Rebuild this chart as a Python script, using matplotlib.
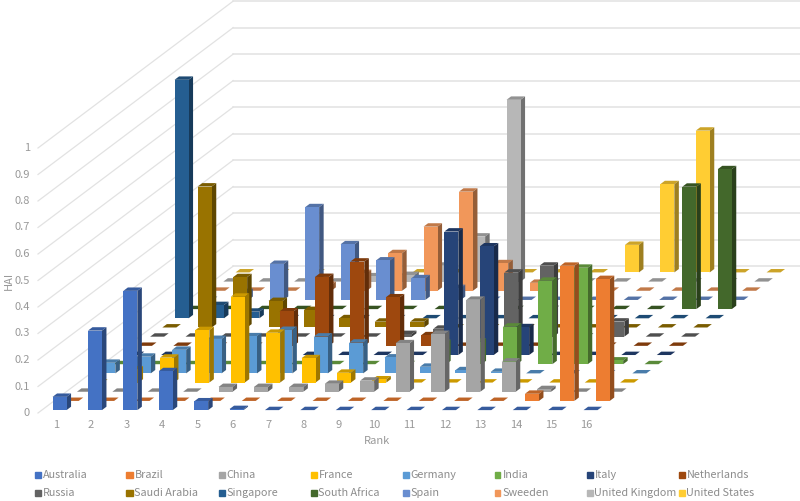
import numpy as np
import matplotlib
matplotlib.use("Agg")
import matplotlib.pyplot as plt
from matplotlib.colors import to_rgb
from matplotlib.patches import Rectangle

plt.rcParams['font.family'] = ['Noto Sans CJK SC', 'DejaVu Sans']

ranks = list(range(1, 17))
z_ticks = [0, 0.1, 0.2, 0.3, 0.4, 0.5, 0.6, 0.7, 0.8, 0.9, 1]
z_labels = ['0', '0.1', '0.2', '0.3', '0.4', '0.5', '0.6', '0.7', '0.8', '0.9', '1']

australia = [.05, .30, .45, .147, .033, .004, 0, 0, 0, 0, 0, 0, 0, 0, 0, 0]
brazil = [0, 0, 0, 0, 0, 0, 0, 0, 0, 0, 0, 0, 0, .027, .51, .46]
china = [0, 0, 0, 0, .018, .018, .018, .03, .042, .183, .218, .347, .114, .01, 0, 0]
france = [0, .05, .094, .198, .324, .188, .092, .037, .012, 0, 0, 0, 0, 0, 0, 0]
germany = [.04, .063, .089, .13, .14, .164, .139, .116, .06, .025, .012, .006, 0, 0, 0, 0]
india = [0, 0, 0, 0, 0, 0, 0, 0, 0, .08, .085, .142, .315, .364, .014, 0]
italy = [0, 0, 0, 0, 0, 0, 0, 0, 0, .466, .41, .105, 0, 0, 0, 0]
netherlands = [0, 0, 0, 0, .13, .26, .318, .183, .04, 0, 0, 0, 0, 0, 0, 0]
russia = [0, 0, 0, 0, 0, 0, 0, .01, .03, 0, .242, .268, 0, .057, 0, 0]
saudi_arabia = [0, .532, .19, .10, .066, .035, .022, .022, 0, 0, 0, 0, 0, 0, 0, 0]
singapore = [.90, .05, .025, 0, 0, 0, 0, 0, 0, 0, 0, 0, 0, 0, 0, 0]
south_africa = [0, 0, 0, 0, 0, 0, 0, 0, 0, 0, 0, 0, 0, 0, .462, .528]
spain = [0, .03, .136, .35, .21, .149, .082, .045, 0, 0, 0, 0, 0, 0, 0, 0]
sweeden = [0, 0, 0, .022, .067, .142, .242, .374, .104, .03, 0, 0, 0, 0, 0, 0]
united_kingdom = [0, 0, 0, 0, .02, .025, .06, .17, .686, 0, 0, 0, 0, 0, 0, 0]
united_states = [0, 0, 0, 0, 0, 0, 0, 0, 0, 0, 0, .104, .333, .535, 0, 0]

names = ['Australia', 'Brazil', 'China', 'France', 'Germany', 'India', 'Italy',
         'Netherlands', 'Russia', 'Saudi Arabia', 'Singapore', 'South Africa',
         'Spain', 'Sweeden', 'United Kingdom', 'United States']
series = [australia, brazil, china, france, germany, india, italy, netherlands,
          russia, saudi_arabia, singapore, south_africa, spain, sweeden,
          united_kingdom, united_states]
colors = ['#4472C4', '#ED7D31', '#A5A5A5', '#FFC000', '#5B9BD5', '#70AD47', '#264478',
          '#9E480E', '#636363', '#997300', '#255E91', '#43682B', '#698ED0', '#F1975A',
          '#B7B7B7', '#FFCD33']

W, H = 800, 501
fig = plt.figure(figsize=(W / 100, H / 100), dpi=100)
ax = fig.add_axes([0, 0, 1, 1], projection='3d', computed_zorder=False, proj_type='ortho')
ax.set_axis_off()
ax.set_xticks([])
ax.set_yticks([])
ax.set_zticks([])

# Oblique projection of the chart's floor and walls, in figure pixels.
OX, OY = 38.0, 413.0
RX, SX, SY, ZY = 35.4, 12.2, 9.18, 265.0


def oblique_proj():
    x0, x1 = ax.viewLim.x0, ax.viewLim.x1
    y0, y1 = ax.viewLim.y0, ax.viewLim.y1
    sx = (x1 - x0) / W
    sy = (y1 - y0) / H
    return np.array([
        [RX * sx, SX * sx, 0, OX * sx + x0],
        [0, SY * sy, ZY * sy, (H - OY) * sy + y0],
        [-0.01, 0.1, -0.01, 0.5],
        [0, 0, 0, 1.0],
    ])


ax.get_proj = oblique_proj
ax.apply_aspect = lambda position=None: None

GRID = '#E2E2E2'
TEXT = '#999999'
for z, lab in zip(z_ticks, z_labels):
    ax.plot([0, 0], [0, 16], [z, z], color=GRID, lw=0.9, zorder=1)
    ax.plot([0, 16], [16, 16], [z, z], color=GRID, lw=1.1, zorder=1)
    fig.text((OX - 8) / W, 1 - (OY - ZY * z) / H, lab, ha='right', va='center',
             color=TEXT, fontsize=8)

BW, BD = 14 / 35.4, 0.37
none = (0, 0, 0, 0)
for s in range(len(series) - 1, -1, -1):
    base = np.array(to_rgb(colors[s]))
    top, right = tuple(base * 0.8) + (1,), tuple(base * 0.62) + (1,)
    front = tuple(base) + (1,)
    for r, v in zip(ranks, series[s]):
        ax.bar3d(r - 1 + (1 - BW) / 2, s + (1 - BD) / 2, 0, BW, BD, v,
                 color=[none, top, front, none, none, right], shade=False,
                 linewidth=0, zorder=10 + (15 - s))

for r in ranks:
    fig.text((OX + RX * (r - 0.5)) / W, 1 - (OY + 12) / H, str(r), ha='center', va='center',
             color=TEXT, fontsize=8)

fig.text(377 / W, 1 - 441 / H, 'Rank', ha='center', va='center', color=TEXT, fontsize=8)
fig.text(9 / W, 1 - 281 / H, 'HAI', ha='center', va='center', rotation=90,
         color=TEXT, fontsize=8)

for i, (name, c) in enumerate(zip(names, colors)):
    col, row = i % 8, i // 8
    lx = 34.5 + col * 92.0
    ly = 474.7 + row * 18.7
    fig.patches.append(Rectangle((lx / W, 1 - (ly + 3) / H), 6 / W, 6 / H, color=c,
                                 transform=fig.transFigure, figure=fig))
    fig.text((lx + 8) / W, 1 - ly / H, name, ha='left', va='center',
             color='#8C8C8C', fontsize=7.8)

fig.savefig('out.png', dpi=100)
